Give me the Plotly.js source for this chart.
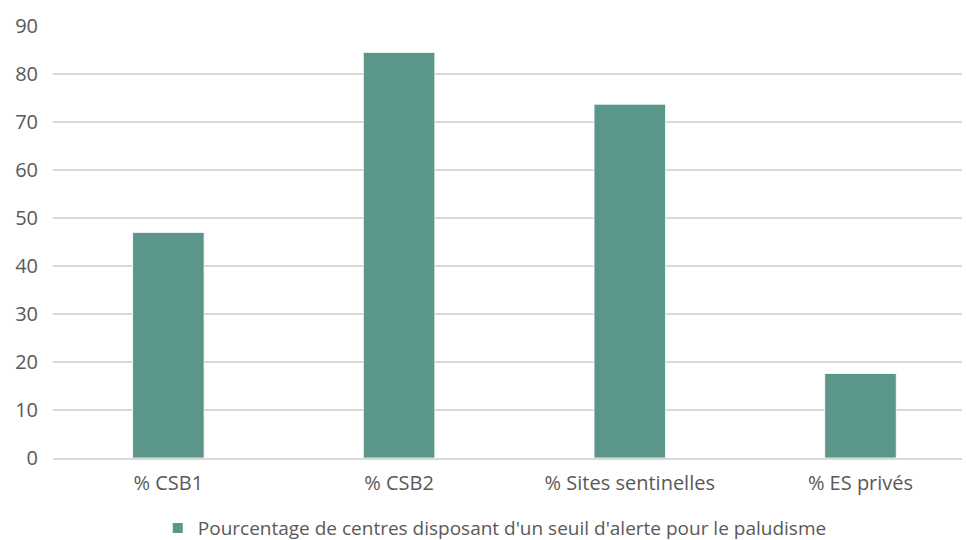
<!DOCTYPE html>
<html><head><meta charset="utf-8">
<script src="https://cdn.plot.ly/plotly-3.0.1.min.js"></script>
<style>html,body{margin:0;padding:0;background:#fff;overflow:hidden}</style>
</head><body>
<div id="chart" style="width:966px;height:540px"></div>
<script>
const categories = ["% CSB1", "% CSB2", "% Sites sentinelles", "% ES privés"];
const values = [47.0, 84.5, 73.7, 17.6];
const seriesName = "Pourcentage de centres disposant d'un seuil d'alerte pour le paludisme";
const yTicks = [0, 10, 20, 30, 40, 50, 60, 70, 80, 90];

const fontFam = "'Open Sans', 'Noto Sans', sans-serif";
Plotly.newPlot("chart", [{
  type: "bar",
  x: categories,
  y: values,
  name: seriesName,
  width: 0.31,
  marker: {color: "#5a978a", line: {color: "#ffffff", width: 0.8}},
  showlegend: true
}], {
  width: 966, height: 540,
  margin: {l: 53, r: 4, t: 26, b: 82, autoexpand: false},
  paper_bgcolor: "#fff", plot_bgcolor: "#fff",
  font: {family: fontFam, size: 19, color: "#595959"},
  xaxis: {
    type: "category", range: [-0.5, 3.44], automargin: false,
    showgrid: false, showline: true, linecolor: "#d9d9d9", linewidth: 1.5,
    ticks: "", ticklabelstandoff: 6,
    tickfont: {family: fontFam, size: 20, color: "#595959"}
  },
  yaxis: {
    range: [0, 90], tickvals: yTicks, ticktext: yTicks.map(String), automargin: false,
    showgrid: true, gridcolor: "#d9d9d9", gridwidth: 1.3,
    zeroline: false, showline: false, ticks: "", ticklabelstandoff: 14,
    tickfont: {family: fontFam, size: 20, color: "#595959"}
  },
  legend: {orientation: "h", x: 0.486, xanchor: "center", yref: "container", y: 0.022, yanchor: "middle",
    font: {family: fontFam, size: 19, color: "#595959"}, itemwidth: 30, itemsizing: "constant"}
}, {displayModeBar: false, staticPlot: true});
</script>
</body></html>
